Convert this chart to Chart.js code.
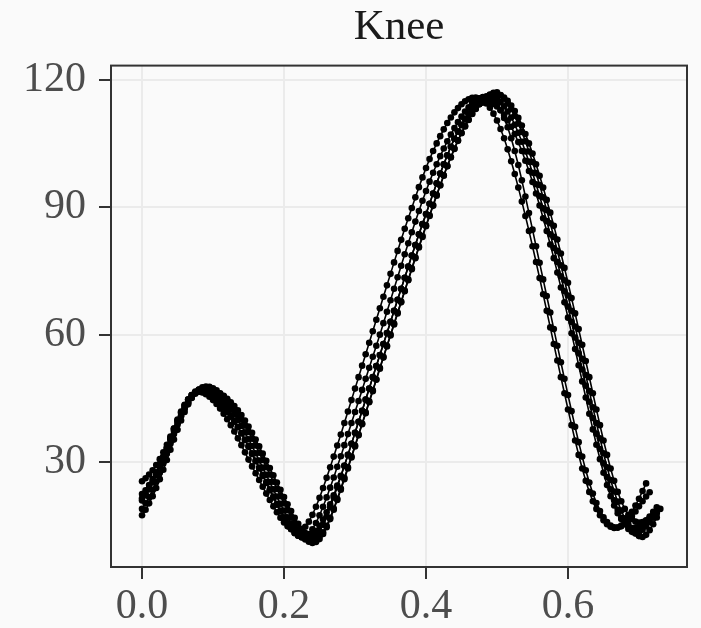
<!DOCTYPE html>
<html>
<head>
<meta charset="utf-8">
<script src="https://cdn.jsdelivr.net/npm/chart.js@4/dist/chart.umd.min.js"></script>
<style>
  body { margin: 0; background: #fafafa; }
  canvas { display: block; }
</style>
</head>
<body>
<canvas id="kneeChart" width="701" height="628"></canvas>
<script>
// knee angle (deg), one array per gait cycle, sampled every 5 ms
var DT = 0.005;

var cycle1 = [25.5,26.2,27.1,28.1,29.3,30.7,32.3,34.1,36.0,37.9,
  39.8,41.6,43.2,44.6,45.7,46.4,46.6,46.4,46.0,45.4,
  44.6,43.7,42.6,41.4,40.1,38.7,37.2,35.6,34.0,32.3,
  30.6,29.0,27.4,25.8,24.2,22.6,21.1,19.6,18.2,16.9,
  15.8,14.9,14.2,13.8,13.7,14.0,14.8,16.0,17.6,19.5,
  21.6,23.9,26.3,28.8,31.3,33.9,36.5,39.2,41.9,44.6,
  47.3,50.0,52.7,55.4,58.1,60.8,63.5,66.2,68.9,71.6,
  74.3,77.0,79.7,82.3,84.9,87.4,89.8,92.3,94.7,97.0,
  99.2,101.3,103.2,105.0,106.7,108.3,109.8,111.1,112.3,113.3,
  114.2,114.9,115.4,115.7,115.8,115.6,115.2,114.4,113.4,112.0,
  110.4,108.4,106.2,103.6,100.8,97.8,94.6,91.3,87.9,84.4,
  80.8,77.1,73.3,69.5,65.6,61.7,57.8,53.9,50.0,46.2,
  42.4,38.7,35.1,31.7,28.5,25.6,23.0,20.8,19.0,17.5,
  16.3,15.4,14.8,14.5,14.6,15.1,15.9,17.0,18.3,19.8,
  21.4,23.2,25.0];

var cycle2 = [21.5,22.6,23.9,25.4,27.1,29.0,31.0,33.2,35.4,37.6,
  39.7,41.6,43.3,44.7,45.8,46.6,47.0,47.1,46.9,46.5,
  45.9,45.2,44.3,43.3,42.2,41.0,39.7,38.3,36.8,35.2,
  33.6,31.9,30.2,28.5,26.8,25.1,23.4,21.7,20.0,18.4,
  16.9,15.5,14.3,13.3,12.7,12.4,12.6,13.1,14.2,15.7,
  17.5,19.5,21.7,24.0,26.4,28.9,31.4,34.0,36.6,39.2,
  41.8,44.4,47.0,49.6,52.2,54.8,57.4,60.0,62.7,65.4,
  68.1,70.8,73.5,76.2,78.9,81.5,84.1,86.6,89.1,91.5,
  93.8,96.0,98.1,100.1,102.0,103.8,105.5,107.1,108.6,110.0,
  111.3,112.5,113.5,114.4,115.1,115.6,115.9,116.0,115.8,115.2,
  114.2,112.8,111.0,108.8,106.2,103.2,99.9,96.3,92.5,88.6,
  84.7,80.8,76.9,73.0,69.1,65.2,61.3,57.4,53.5,49.6,
  45.8,42.0,38.3,34.7,31.3,28.1,25.2,22.6,20.4,18.5,
  17.0,15.9,15.1,14.7,14.6,14.9,15.5,16.3,17.3,18.4,
  19.6,20.8,21.9,22.9];

var cycle3 = [17.5,18.8,20.3,22.0,23.9,26.0,28.2,30.5,32.9,35.3,
  37.6,39.8,41.8,43.6,45.1,46.3,47.1,47.6,47.8,47.7,
  47.4,46.9,46.2,45.5,44.6,43.6,42.5,41.3,40.0,38.6,
  37.1,35.5,33.9,32.2,30.5,28.8,27.1,25.4,23.7,22.0,
  20.3,18.7,17.1,15.6,14.2,13.0,12.0,11.3,11.0,11.2,
  11.9,13.1,14.7,16.6,18.8,21.1,23.5,26.0,28.5,31.1,
  33.7,36.3,38.9,41.5,44.1,46.7,49.4,52.0,54.6,57.2,
  59.8,62.4,65.0,67.6,70.2,72.8,75.4,78.0,80.5,83.0,
  85.5,87.9,90.3,92.7,95.1,97.4,99.6,101.7,103.7,105.6,
  107.4,109.0,110.5,111.9,113.1,114.2,115.1,115.9,116.5,116.9,
  117.0,116.3,115.5,114.4,113.1,111.5,109.7,107.7,105.5,103.1,
  100.6,98.0,95.2,92.3,89.3,86.2,83.0,79.7,76.3,72.8,
  69.2,65.6,61.9,58.1,54.3,50.5,46.7,42.9,39.2,35.6,
  32.1,28.8,25.8,23.1,20.7,18.6,16.8,15.3,14.1,13.2,
  12.6,12.4,12.9,14.0,15.4,17.0];

var cycle4 = [19.0,20.3,21.8,23.5,25.4,27.5,29.7,32.0,34.3,36.6,
  38.8,40.8,42.6,44.1,45.4,46.4,47.0,47.3,47.3,47.1,
  46.7,46.1,45.4,44.5,43.5,42.4,41.2,39.9,38.5,37.0,
  35.4,33.8,32.1,30.4,28.7,27.0,25.3,23.6,21.9,20.2,
  18.6,17.0,15.6,14.3,13.2,12.3,11.8,11.6,11.8,12.5,
  13.7,15.3,17.2,19.4,21.7,24.1,26.6,29.1,31.7,34.3,
  36.9,39.5,42.1,44.7,47.3,50.0,52.6,55.2,57.8,60.4,
  63.0,65.6,68.2,70.8,73.4,76.0,78.6,81.1,83.6,86.0,
  88.4,90.8,93.2,95.6,97.9,100.1,102.2,104.2,106.1,107.8,
  109.4,110.8,112.1,113.2,114.2,115.0,115.6,116.0,116.1,115.9,
  115.4,114.7,113.7,112.5,111.1,109.4,107.5,105.4,103.1,100.7,
  98.1,95.4,92.6,89.7,86.7,83.6,80.4,77.1,73.7,70.2,
  66.6,63.0,59.3,55.6,51.8,48.0,44.2,40.4,36.7,33.1,
  29.7,26.5,23.6,21.0,18.8,16.9,15.4,14.3,13.6,13.3,
  13.5,14.1,14.9,15.9,16.9,17.9];

var cycle5 = [21.0,22.2,23.6,25.2,27.0,29.0,31.2,33.4,35.7,37.9,
  40.0,41.9,43.5,44.8,45.8,46.4,46.6,46.5,46.3,45.9,
  45.3,44.6,43.8,42.8,41.8,40.7,39.5,38.2,36.8,35.3,
  33.8,32.1,30.4,28.7,27.0,25.3,23.6,21.9,20.2,18.6,
  17.0,15.6,14.4,13.4,12.7,12.4,12.3,12.5,12.9,13.8,
  15.0,16.5,18.2,20.1,22.2,24.5,26.8,29.2,31.7,34.3,
  36.9,39.5,42.1,44.7,47.3,50.0,52.6,55.2,57.8,60.4,
  63.0,65.6,68.2,70.8,73.4,76.0,78.6,81.1,83.6,86.0,
  88.4,90.8,93.2,95.6,97.9,100.1,102.2,104.2,106.1,107.8,
  109.3,110.6,111.8,112.8,113.6,114.2,114.6,114.8,114.7,114.3,
  113.7,112.8,111.7,110.4,108.9,107.2,105.3,103.2,100.9,98.5,
  95.9,93.2,90.4,87.4,84.4,81.2,78.0,74.6,71.1,67.6,
  64.0,60.3,56.6,52.8,49.0,45.2,41.4,37.7,34.1,30.7,
  27.5,24.6,22.0,19.8,18.0,16.6,15.5,14.8,14.5,14.5,
  14.8,15.4,16.2,17.2,18.3,19.4];

var cycle6 = [22.5,23.4,24.6,26.0,27.6,29.4,31.3,33.3,35.3,37.3,
  39.2,41.0,42.6,44.0,45.2,46.1,46.7,47.0,47.1,47.0,
  46.8,46.5,46.1,45.6,44.9,44.1,43.2,42.2,41.1,39.8,
  38.4,36.9,35.3,33.7,32.0,30.3,28.6,26.9,25.2,23.5,
  21.8,20.1,18.5,16.9,15.5,14.3,13.3,12.6,12.2,12.1,
  12.5,13.5,15.0,16.9,19.1,21.4,23.8,26.3,28.8,31.3,
  33.9,36.5,39.1,41.7,44.3,46.9,49.5,52.2,54.8,57.4,
  60.0,62.6,65.2,67.8,70.4,73.0,75.6,78.2,80.7,83.2,
  85.7,88.1,90.5,92.9,95.2,97.5,99.7,101.8,103.8,105.7,
  107.5,109.1,110.6,112.0,113.2,114.3,115.2,115.9,116.4,116.7,
  116.7,116.4,115.8,115.0,113.9,112.6,111.0,109.2,107.2,105.0,
  102.6,100.1,97.4,94.6,91.7,88.7,85.6,82.4,79.1,75.7,
  72.2,68.6,65.0,61.3,57.6,53.8,50.0,46.2,42.4,38.7,
  35.1,31.7,28.5,25.6,23.0,20.8,19.0,17.6,16.6,16.0,
  15.8,15.9,16.3,16.9,17.6,18.3,19.0];

var cycles = [cycle1, cycle2, cycle3, cycle4, cycle5, cycle6];

var xTicks = [0, 0.2, 0.4, 0.6];
var yTicks = [30, 60, 90, 120];

var SERIF = "'Liberation Serif', 'DejaVu Serif', serif";

// turn one cycle into {x, y} points on the time axis
function toPoints(values) {
  return values.map(function (v, i) {
    return { x: i * DT, y: v };
  });
}

var datasets = cycles.map(function (c) {
  return {
    data: toPoints(c),
    borderColor: '#000000',
    borderWidth: 1.6,
    pointRadius: 3.3,
    pointBackgroundColor: '#000000',
    pointBorderWidth: 0,
    tension: 0,
    fill: false
  };
});

// grey background behind everything
var bgPlugin = {
  id: 'bg',
  beforeDraw: function (chart) {
    var ctx = chart.ctx;
    ctx.save();
    ctx.fillStyle = '#fafafa';
    ctx.fillRect(0, 0, chart.width, chart.height);
    ctx.restore();
  }
};

// dark frame round the panel
var framePlugin = {
  id: 'frame',
  afterDraw: function (chart) {
    var a = chart.chartArea;
    var ctx = chart.ctx;
    ctx.save();
    ctx.strokeStyle = '#333333';
    ctx.lineWidth = 2;
    ctx.strokeRect(a.left, a.top, a.right - a.left, a.bottom - a.top);
    ctx.restore();
  }
};

new Chart(document.getElementById('kneeChart'), {
  type: 'line',
  data: { datasets: datasets },
  plugins: [bgPlugin, framePlugin],
  options: {
    responsive: false,
    animation: false,
    layout: { padding: { left: 0, right: 14, top: 0, bottom: 0 } },
    plugins: {
      legend: { display: false },
      tooltip: { enabled: false },
      title: {
        display: true,
        text: 'Knee',
        color: '#1a1a1a',
        fullSize: false,
        font: { family: SERIF, size: 43, weight: 'normal' },
        padding: { top: 2, bottom: 12 }
      }
    },
    scales: {
      x: {
        type: 'linear',
        min: -0.0437,
        max: 0.7676,
        afterFit: function (s) { s.height = 61; },
        afterBuildTicks: function (s) {
          s.ticks = xTicks.map(function (v) { return { value: v }; });
        },
        ticks: {
          color: '#4d4d4d',
          font: { family: SERIF, size: 42 },
          padding: 3,
          maxRotation: 0,
          callback: function (v) { return v.toFixed(1); }
        },
        grid: {
          color: '#ebebeb',
          lineWidth: 2,
          tickColor: '#333333',
          tickLength: 12,
          tickWidth: 2
        },
        border: { display: false }
      },
      y: {
        type: 'linear',
        min: 5.33,
        max: 123.3,
        afterFit: function (s) { s.width = 111; },
        afterBuildTicks: function (s) {
          s.ticks = yTicks.map(function (v) { return { value: v }; });
        },
        ticks: {
          color: '#4d4d4d',
          font: { family: SERIF, size: 42 },
          padding: 13
        },
        grid: {
          color: '#ebebeb',
          lineWidth: 2,
          tickColor: '#333333',
          tickLength: 12,
          tickWidth: 2
        },
        border: { display: false }
      }
    }
  }
});
</script>
</body>
</html>
